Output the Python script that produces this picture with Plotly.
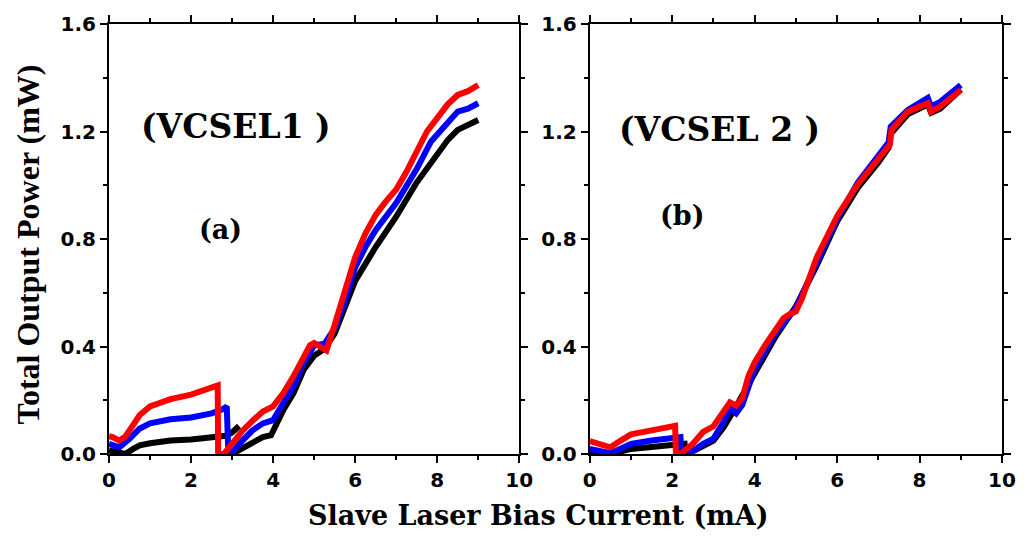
import plotly.graph_objects as go

# ---------------- data ----------------
# Panel (a) VCSEL1
a_red_x = [0, 0.1, 0.25, 0.4, 0.5, 0.75, 1.0, 1.25, 1.5, 2.0, 2.5, 2.65, 2.66, 2.8, 3.0, 3.25, 3.5, 3.75,
           4.0, 4.25, 4.5, 4.75, 4.9, 5.0, 5.15, 5.3, 5.5, 5.75, 6.0, 6.25, 6.5, 6.75, 7.0, 7.25, 7.5, 7.75,
           8.0, 8.25, 8.5, 8.75, 9.0]
a_red_y = [0.066, 0.062, 0.05, 0.065, 0.088, 0.145, 0.177, 0.193, 0.204, 0.221, 0.243, 0.255, 0.0, 0.0,
           0.038, 0.086, 0.124, 0.158, 0.177, 0.227, 0.29, 0.366, 0.405, 0.413, 0.397, 0.385, 0.48, 0.606,
           0.732, 0.82, 0.89, 0.94, 0.984, 1.05, 1.123, 1.2, 1.25, 1.30, 1.336, 1.35, 1.373]

a_blue_x = [0, 0.25, 0.5, 0.75, 1.0, 1.5, 2.0, 2.5, 2.75, 2.87, 2.91, 2.97, 3.25, 3.5, 3.75, 4.0, 4.25,
            4.5, 4.75, 5.0, 5.25, 5.5, 5.75, 6.0, 6.25, 6.5, 7.0, 7.5, 7.85, 8.3, 8.5, 8.75, 9.0]
a_blue_y = [0.038, 0.025, 0.057, 0.095, 0.114, 0.129, 0.136, 0.151, 0.165, 0.177, 0.0, 0.0, 0.05, 0.088,
            0.114, 0.126, 0.19, 0.252, 0.34, 0.404, 0.41, 0.467, 0.568, 0.694, 0.77, 0.833, 0.934, 1.06,
            1.163, 1.243, 1.274, 1.285, 1.305]

a_black_x = [0, 0.25, 0.4, 0.6, 0.75, 1.0, 1.5, 2.0, 2.5, 2.85, 3.0, 3.17, None,
             3.0, 3.25, 3.5, 3.75, 3.95, 4.25, 4.5, 4.75, 5.0, 5.25, 5.5, 5.75, 6.0, 6.5, 7.0, 7.5,
             7.93, 8.26, 8.5, 8.75, 9.0]
a_black_y = [0.013, 0.006, 0.0, 0.02, 0.032, 0.04, 0.05, 0.054, 0.063, 0.068, 0.08, 0.104, None,
             0.0, 0.02, 0.044, 0.063, 0.07, 0.164, 0.227, 0.315, 0.366, 0.391, 0.448, 0.543, 0.644,
             0.77, 0.883, 1.01, 1.101, 1.169, 1.206, 1.225, 1.243]

# Panel (b) VCSEL 2
b_red_x = [0, 0.25, 0.5, 0.75, 1.0, 1.5, 2.0, 2.07, 2.09, 2.2, 2.5, 2.75, 3.0, 3.25, 3.4, 3.55, 3.7,
           3.85, 4.0, 4.25, 4.5, 4.7, 4.85, 5.0, 5.15, 5.5, 6.0, 6.5, 7.0, 7.28, 7.32, 7.72, 8.2,
           8.28, 8.5, 9.0]
b_red_y = [0.048, 0.038, 0.025, 0.05, 0.073, 0.088, 0.101, 0.105, 0.0, 0.0, 0.038, 0.082, 0.103, 0.164,
           0.192, 0.18, 0.208, 0.29, 0.341, 0.404, 0.461, 0.505, 0.52, 0.53, 0.58, 0.73, 0.885, 1.003,
           1.098, 1.151, 1.206, 1.274, 1.305, 1.274, 1.293, 1.354]

b_blue_x = [0, 0.25, 0.5, 0.75, 1.0, 1.5, 2.0, 2.2, 2.22, 2.4, 2.75, 3.0, 3.25, 3.4, 3.55, 3.7, 4.0,
            4.5, 4.85, 5.0, 5.5, 6.0, 6.5, 7.0, 7.25, 7.3, 7.72, 8.2, 8.28, 8.5, 9.0]
b_blue_y = [0.019, 0.012, 0.003, 0.02, 0.038, 0.05, 0.061, 0.063, 0.0, 0.0, 0.038, 0.057, 0.12, 0.17,
            0.151, 0.183, 0.315, 0.448, 0.515, 0.543, 0.71, 0.875, 1.01, 1.11, 1.16, 1.218, 1.28,
            1.325, 1.293, 1.31, 1.373]

b_black_x = [0, 0.5, 1.0, 1.5, 2.0, 2.3, 2.32, 2.5, 3.0, 3.25, 3.5, 4.0, 4.5, 5.0, 5.5, 6.0, 6.5,
             7.0, 7.25, 7.3, 7.72, 8.2, 8.28, 8.5, 9.0]
b_black_y = [0.01, 0.0, 0.019, 0.028, 0.032, 0.038, 0.0, 0.01, 0.05, 0.1, 0.164, 0.303, 0.435, 0.549,
             0.70, 0.865, 0.99, 1.085, 1.14, 1.192, 1.265, 1.3, 1.27, 1.285, 1.356]

x_ticks = [0, 2, 4, 6, 8, 10]
y_ticks = [0.0, 0.4, 0.8, 1.2, 1.6]
y_tick_labels = ["0.0", "0.4", "0.8", "1.2", "1.6"]

x_title = "Slave Laser Bias Current (mA)"
y_title = "Total Output Power (mW)"
panel_titles = ["(VCSEL1 )", "(VCSEL 2 )"]
panel_labels = ["(a)", "(b)"]

# ---------------- figure ----------------
W, H = 1028, 536
ML, MR, MT, MB = 109, 20, 22, 82
pw = W - ML - MR
ph = H - MT - MB

def px2paper_x(p):
    return (p - ML) / pw

def px2paper_y(p):
    return (H - MB - p) / ph

fig = go.Figure()

LW = 6
def add(x, y, color, xa, ya):
    fig.add_trace(go.Scatter(x=x, y=y, mode="lines",
                             line=dict(color=color, width=LW),
                             xaxis=xa, yaxis=ya, showlegend=False, connectgaps=False))

add(a_black_x, a_black_y, "#000000", "x", "y")
add(a_blue_x, a_blue_y, "#0000ff", "x", "y")
add(a_red_x, a_red_y, "#ff0000", "x", "y")
add(b_black_x, b_black_y, "#000000", "x2", "y2")
add(b_blue_x, b_blue_y, "#0000ff", "x2", "y2")
add(b_red_x, b_red_y, "#ff0000", "x2", "y2")

tickfont = dict(family="DejaVu Sans", size=20, color="black", weight="bold")

xaxis_common = dict(range=[0, 10], tickvals=x_ticks, ticks="outside", ticklen=7, tickwidth=2,
                    tickcolor="black", showline=True, linecolor="black", linewidth=2,
                    mirror="allticks", showgrid=False, zeroline=False, tickfont=tickfont,
                    minor=dict(dtick=1, tick0=0, ticks="outside", ticklen=4, tickwidth=2,
                               tickcolor="black", showgrid=False))
yaxis_common = dict(range=[0, 1.6], tickvals=y_ticks, ticktext=y_tick_labels, ticks="outside",
                    ticklen=7, tickwidth=2, tickcolor="black", showline=True, linecolor="black",
                    linewidth=2, mirror="allticks", showgrid=False, zeroline=False, tickfont=tickfont,
                    minor=dict(dtick=0.2, tick0=0, ticks="outside", ticklen=4, tickwidth=2,
                               tickcolor="black", showgrid=False))

fig.update_layout(
    width=W, height=H,
    margin=dict(l=ML, r=MR, t=MT, b=MB),
    paper_bgcolor="white", plot_bgcolor="white",
    xaxis=dict(domain=[0, px2paper_x(522)], anchor="y", **xaxis_common),
    yaxis=dict(domain=[0, 1], anchor="x", **yaxis_common),
    xaxis2=dict(domain=[px2paper_x(593), 1], anchor="y2", **xaxis_common),
    yaxis2=dict(domain=[0, 1], anchor="x2", **yaxis_common),
)

serif_big = dict(family="DejaVu Serif", size=33, color="black", weight="bold")
serif_mid = dict(family="DejaVu Serif", size=27, color="black", weight="bold")

fig.add_annotation(x=3.1, y=1.217, xref="x", yref="y", text=panel_titles[0], showarrow=False,
                   font=serif_big, xanchor="center", yanchor="middle")
fig.add_annotation(x=2.71, y=0.837, xref="x", yref="y", text=panel_labels[0], showarrow=False,
                   font=serif_mid, xanchor="center", yanchor="middle")
fig.add_annotation(x=3.15, y=1.209, xref="x2", yref="y2", text=panel_titles[1], showarrow=False,
                   font=serif_big, xanchor="center", yanchor="middle")
fig.add_annotation(x=2.24, y=0.889, xref="x2", yref="y2", text=panel_labels[1], showarrow=False,
                   font=serif_mid, xanchor="center", yanchor="middle")

# axis titles
fig.add_annotation(x=px2paper_x(541), y=px2paper_y(516), xref="paper", yref="paper", text=x_title,
                   showarrow=False, font=dict(family="DejaVu Serif", size=27, color="black", weight="bold"),
                   xanchor="center", yanchor="middle")
fig.add_annotation(x=px2paper_x(27), y=px2paper_y(244), xref="paper", yref="paper", text=y_title,
                   showarrow=False, textangle=-90,
                   font=dict(family="Liberation Serif", size=32, color="black", weight="bold"),
                   xanchor="center", yanchor="middle")

fig.write_html("out.html")
